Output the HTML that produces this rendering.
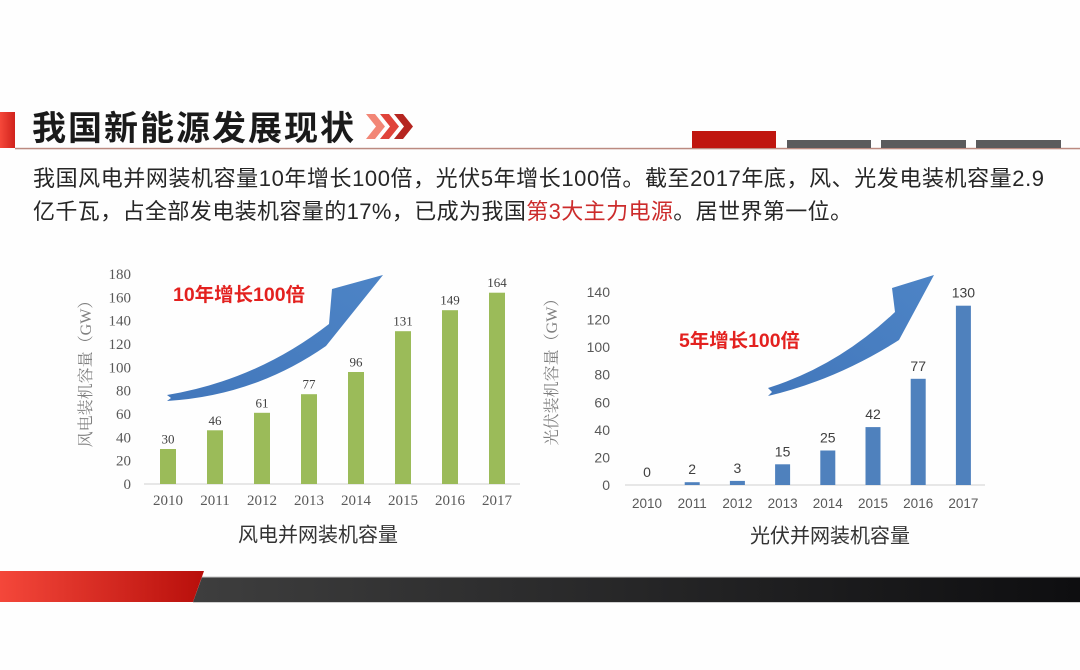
<!DOCTYPE html>
<html>
<head>
<meta charset="utf-8">
<style>
html,body{margin:0;padding:0;background:#fff;}
svg{display:block;}
.cjk{font-family:"Liberation Sans","Noto Sans CJK SC",sans-serif;}
.ser{font-family:"Liberation Serif","Noto Serif CJK SC",serif;}
.sans{font-family:"Liberation Sans","Noto Sans CJK SC",sans-serif;}
</style>
</head>
<body>
<svg width="1080" height="670" viewBox="0 0 1080 670" xmlns="http://www.w3.org/2000/svg">
<defs>
<linearGradient id="redg" x1="0" y1="0" x2="1" y2="0">
<stop offset="0" stop-color="#f5483a"/><stop offset="1" stop-color="#d0221c"/>
</linearGradient>
<linearGradient id="botred" x1="0" y1="0" x2="1" y2="0">
<stop offset="0" stop-color="#f4473a"/><stop offset="1" stop-color="#b80f0b"/>
</linearGradient>
<linearGradient id="botdark" x1="0" y1="0" x2="1" y2="0">
<stop offset="0" stop-color="#3e3e3e"/><stop offset="1" stop-color="#0e0e10"/>
</linearGradient>
<linearGradient id="arrowg" x1="0" y1="1" x2="1" y2="0">
<stop offset="0" stop-color="#4277bb"/><stop offset="1" stop-color="#4d84c6"/>
</linearGradient>
</defs>
<rect width="1080" height="670" fill="#fefefe"/>

<!-- Header -->
<rect x="0" y="112" width="15" height="36" fill="url(#redg)"/>
<text x="32" y="140" class="cjk" font-size="34" font-weight="bold" fill="#1a1a1a" letter-spacing="2">我国新能源发展现状</text>
<polygon points="366,114 375,114 385,126.5 375,139 366,139 376,126.5" fill="#f28676"/>
<polygon points="380,114 389,114 399,126.5 389,139 380,139 390,126.5" fill="#e0433a"/>
<polygon points="394,114 403,114 413,126.5 403,139 394,139 404,126.5" fill="#b52520"/>
<rect x="15" y="147.8" width="1065" height="1.5" fill="#bb8a80"/>
<rect x="692" y="131" width="84" height="17" fill="#c0160f"/>
<rect x="787" y="140" width="84" height="8" fill="#5b5b5d"/>
<rect x="881" y="140" width="85" height="8" fill="#5b5b5d"/>
<rect x="976" y="140" width="85" height="8" fill="#5b5b5d"/>

<!-- Body text -->
<text x="33" y="186" class="cjk" font-size="22" fill="#262626" textLength="1011" lengthAdjust="spacing">我国风电并网装机容量10年增长100倍，光伏5年增长100倍。截至2017年底，风、光发电装机容量2.9</text>
<text x="33" y="219" class="cjk" font-size="22" fill="#262626" letter-spacing="0.4">亿千瓦，占全部发电装机容量的17%，已成为我国<tspan fill="#cc2b2b">第3大主力电源</tspan>。居世界第一位。</text>

<!-- Left chart -->
<g class="ser" font-size="15" fill="#595959" text-anchor="end">
<text x="131" y="489">0</text>
<text x="131" y="465.7">20</text>
<text x="131" y="442.3">40</text>
<text x="131" y="419">60</text>
<text x="131" y="395.7">80</text>
<text x="131" y="372.3">100</text>
<text x="131" y="349">120</text>
<text x="131" y="325.7">140</text>
<text x="131" y="302.3">160</text>
<text x="131" y="279">180</text>
</g>
<text transform="translate(91,370) rotate(-90)" text-anchor="middle" font-family="'Liberation Serif','Noto Serif CJK SC',serif" font-size="16" fill="#7f7f7f">风电装机容量（GW）</text>
<line x1="144" y1="484" x2="520" y2="484" stroke="#d9d9d9" stroke-width="1.2"/>
<g fill="#9bbb59">
<rect x="160" y="449" width="16" height="35"/>
<rect x="207" y="430.3" width="16" height="53.7"/>
<rect x="254" y="412.8" width="16" height="71.2"/>
<rect x="301" y="394.2" width="16" height="89.8"/>
<rect x="348" y="372" width="16" height="112"/>
<rect x="395" y="331.2" width="16" height="152.8"/>
<rect x="442" y="310.2" width="16" height="173.8"/>
<rect x="489" y="292.7" width="16" height="191.3"/>
</g>
<g class="ser" font-size="13" fill="#404040" text-anchor="middle">
<text x="168" y="443.5">30</text>
<text x="215" y="424.8">46</text>
<text x="262" y="407.3">61</text>
<text x="309" y="388.7">77</text>
<text x="356" y="366.5">96</text>
<text x="403" y="325.7">131</text>
<text x="450" y="304.7">149</text>
<text x="497" y="287.2">164</text>
</g>
<g class="ser" font-size="15" fill="#595959" text-anchor="middle">
<text x="168" y="505">2010</text>
<text x="215" y="505">2011</text>
<text x="262" y="505">2012</text>
<text x="309" y="505">2013</text>
<text x="356" y="505">2014</text>
<text x="403" y="505">2015</text>
<text x="450" y="505">2016</text>
<text x="497" y="505">2017</text>
</g>
<text x="318" y="541.5" class="cjk" font-size="20" fill="#333" text-anchor="middle">风电并网装机容量</text>
<path d="M167,395 Q257,380 329,324 L332,289 L383,275 L326,346 Q254,396 167,401 L171,398 Z" fill="url(#arrowg)"/>
<text x="173" y="301" class="cjk" font-size="19" font-weight="bold" fill="#e3211f" textLength="132" lengthAdjust="spacingAndGlyphs">10年增长100倍</text>

<!-- Right chart -->
<g class="sans" font-size="14" fill="#595959" text-anchor="end">
<text x="610" y="490">0</text>
<text x="610" y="462.4">20</text>
<text x="610" y="434.8">40</text>
<text x="610" y="407.3">60</text>
<text x="610" y="379.7">80</text>
<text x="610" y="352.1">100</text>
<text x="610" y="324.5">120</text>
<text x="610" y="296.9">140</text>
</g>
<text transform="translate(557,368) rotate(-90)" text-anchor="middle" font-family="'Liberation Serif','Noto Serif CJK SC',serif" font-size="16" fill="#7f7f7f">光伏装机容量（GW）</text>
<line x1="625" y1="485" x2="985" y2="485" stroke="#d9d9d9" stroke-width="1.2"/>
<g fill="#4f81bd">
<rect x="684.7" y="482.2" width="15" height="2.8"/>
<rect x="729.9" y="480.9" width="15" height="4.1"/>
<rect x="775.1" y="464.3" width="15" height="20.7"/>
<rect x="820.3" y="450.5" width="15" height="34.5"/>
<rect x="865.5" y="427.1" width="15" height="57.9"/>
<rect x="910.7" y="378.8" width="15" height="106.2"/>
<rect x="955.9" y="305.7" width="15" height="179.3"/>
</g>
<g class="sans" font-size="14" fill="#404040" text-anchor="middle">
<text x="647" y="477">0</text>
<text x="692.2" y="474.2">2</text>
<text x="737.4" y="472.9">3</text>
<text x="782.6" y="456.3">15</text>
<text x="827.8" y="442.5">25</text>
<text x="873" y="419.1">42</text>
<text x="918.2" y="370.8">77</text>
<text x="963.4" y="297.7">130</text>
</g>
<g class="sans" font-size="13.5" fill="#595959" text-anchor="middle">
<text x="647" y="508">2010</text>
<text x="692.2" y="508">2011</text>
<text x="737.4" y="508">2012</text>
<text x="782.6" y="508">2013</text>
<text x="827.8" y="508">2014</text>
<text x="873" y="508">2015</text>
<text x="918.2" y="508">2016</text>
<text x="963.4" y="508">2017</text>
</g>
<text x="830" y="542.5" class="cjk" font-size="20" fill="#333" text-anchor="middle">光伏并网装机容量</text>
<path d="M768,388 Q838,366 895,312 L892,288 L934,275 L899,340 Q836,380 768,396 L772,392 Z" fill="url(#arrowg)"/>
<text x="679" y="347" class="cjk" font-size="19" font-weight="bold" fill="#e3211f" textLength="121" lengthAdjust="spacingAndGlyphs">5年增长100倍</text>

<!-- Bottom band -->
<polygon points="202,577 1080,577 1080,602 193,602" fill="url(#botdark)"/>
<line x1="202" y1="577" x2="1080" y2="577" stroke="#c4c4c4" stroke-width="1"/>
<line x1="193" y1="602.5" x2="1080" y2="602.5" stroke="#d0d0d0" stroke-width="1"/>
<polygon points="0,571 204,571 193,602 0,602" fill="url(#botred)"/>
</svg>
</body>
</html>
